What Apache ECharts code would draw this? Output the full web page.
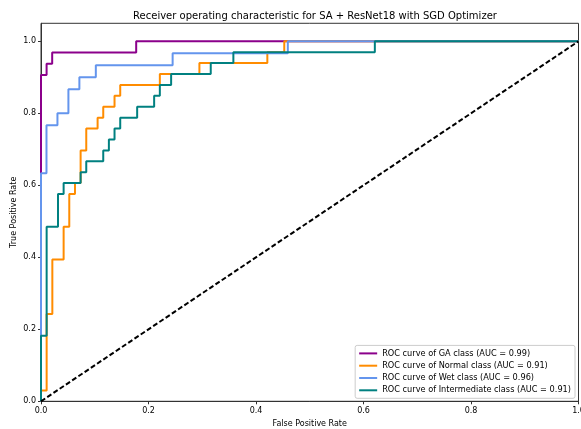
<!DOCTYPE html>
<html>
<head>
<meta charset="utf-8">
<script src="https://cdn.jsdelivr.net/npm/echarts@6/dist/echarts.min.js"></script>
<style>
  html, body { margin: 0; padding: 0; background: #fff; }
  #chart { width: 581px; height: 429px; }
</style>
</head>
<body>
<div id="chart"></div>
<script>
// ROC curves per class (false positive rate / true positive rate corner points)
const gaFpr = [0, 0, 0.0104, 0.0104, 0.0208, 0.0208, 0.1771, 0.1771, 1];
const gaTpr = [0, 0.9062, 0.9062, 0.9375, 0.9375, 0.9688, 0.9688, 1, 1];

const normalFpr = [0, 0, 0.0105, 0.0105, 0.0211, 0.0211, 0.0421, 0.0421, 0.0526, 0.0526, 0.0632, 0.0632,
  0.0737, 0.0737, 0.0842, 0.0842, 0.1053, 0.1053, 0.1158, 0.1158, 0.1368, 0.1368, 0.1474, 0.1474,
  0.2211, 0.2211, 0.2947, 0.2947, 0.4211, 0.4211, 0.4526, 0.4526, 1];
const normalTpr = [0, 0.0303, 0.0303, 0.2424, 0.2424, 0.3939, 0.3939, 0.4848, 0.4848, 0.5758, 0.5758, 0.6061,
  0.6061, 0.6970, 0.6970, 0.7576, 0.7576, 0.7879, 0.7879, 0.8182, 0.8182, 0.8485, 0.8485, 0.8788,
  0.8788, 0.9091, 0.9091, 0.9394, 0.9394, 0.9697, 0.9697, 1, 1];

const wetFpr = [0, 0, 0.0102, 0.0102, 0.0306, 0.0306, 0.0510, 0.0510, 0.0714, 0.0714, 0.1020, 0.1020,
  0.2449, 0.2449, 0.4592, 0.4592, 1];
const wetTpr = [0, 0.6333, 0.6333, 0.7667, 0.7667, 0.8, 0.8, 0.8667, 0.8667, 0.9, 0.9, 0.9333,
  0.9333, 0.9667, 0.9667, 1, 1];

const interFpr = [0, 0, 0.0105, 0.0105, 0.0316, 0.0316, 0.0421, 0.0421, 0.0737, 0.0737, 0.0842, 0.0842,
  0.1158, 0.1158, 0.1263, 0.1263, 0.1368, 0.1368, 0.1474, 0.1474, 0.1789, 0.1789, 0.2105, 0.2105,
  0.2211, 0.2211, 0.2421, 0.2421, 0.3158, 0.3158, 0.3579, 0.3579, 0.6211, 0.6211, 1];
const interTpr = [0, 0.1818, 0.1818, 0.4848, 0.4848, 0.5758, 0.5758, 0.6061, 0.6061, 0.6364, 0.6364, 0.6667,
  0.6667, 0.6970, 0.6970, 0.7273, 0.7273, 0.7576, 0.7576, 0.7879, 0.7879, 0.8182, 0.8182, 0.8485,
  0.8485, 0.8788, 0.8788, 0.9091, 0.9091, 0.9394, 0.9394, 0.9697, 0.9697, 1, 1];

const classNames = ['GA', 'Normal', 'Wet', 'Intermediate'];
const aucValues = ['0.99', '0.91', '0.96', '0.91'];
const classColors = ['#8B008B', '#FF8C00', '#6495ED', '#008080'];
const chanceX = [0, 1];
const chanceY = [0, 1];
const tickValues = [0, 0.2, 0.4, 0.6, 0.8, 1.0];

const FONT = 'DejaVu Sans';
const zip = (xs, ys) => xs.map((x, i) => [x, ys[i]]);
const curves = [[gaFpr, gaTpr], [normalFpr, normalTpr], [wetFpr, wetTpr], [interFpr, interTpr]];
const labels = classNames.map((c, i) => `ROC curve of ${c} class (AUC = ${aucValues[i]})`);

const series = curves.map(([xs, ys], i) => ({
  name: labels[i],
  type: 'line',
  data: zip(xs, ys),
  symbol: 'none',
  color: classColors[i],
  lineStyle: { width: 2, color: classColors[i] },
  z: 3 + i
}));
series.push({
  name: 'chance',
  type: 'line',
  data: zip(chanceX, chanceY),
  symbol: 'none',
  lineStyle: { width: 2, color: '#000', type: [5, 2.5] },
  z: 8
});

const axisCommon = {
  type: 'value',
  interval: 0.2,
  splitLine: { show: false },
  axisLine: { show: true, lineStyle: { color: '#333', width: 1 } },
  axisTick: { show: true, length: 3, lineStyle: { color: '#333' }, customValues: tickValues },
  axisLabel: {
    color: '#000', fontFamily: FONT, fontSize: 8,
    customValues: tickValues,
    formatter: v => v.toFixed(1)
  },
  nameLocation: 'middle',
  nameTextStyle: { color: '#000', fontFamily: FONT, fontSize: 8 }
};

const chart = echarts.init(document.getElementById('chart'), null, { renderer: 'canvas' });
chart.setOption({
  animation: false,
  backgroundColor: '#fff',
  title: {
    text: 'Receiver operating characteristic for SA + ResNet18 with SGD Optimizer',
    left: 310, top: 6, textAlign: 'center',
    textStyle: { fontFamily: FONT, fontSize: 10, fontWeight: 'normal', color: '#000' }
  },
  grid: {
    left: 41, right: 2.5, top: 23.3, bottom: 27.7,
    outerBoundsMode: 'none',
    containLabel: false,
    show: true, borderColor: '#333', borderWidth: 1, backgroundColor: 'transparent'
  },
  xAxis: Object.assign({}, axisCommon, {
    min: 0, max: 1, name: 'False Positive Rate', nameGap: 17,
    axisLabel: Object.assign({}, axisCommon.axisLabel, { margin: 6 })
  }),
  yAxis: Object.assign({}, axisCommon, {
    min: 0, max: 1.05,
    axisLabel: Object.assign({}, axisCommon.axisLabel, { margin: 5 })
  }),
  graphic: [{
    type: 'text',
    x: 14, y: 212.3,
    rotation: Math.PI / 2,
    style: {
      text: 'True Positive Rate',
      fill: '#000',
      font: `8px "${FONT}"`,
      align: 'center',
      verticalAlign: 'middle'
    }
  }],
  legend: {
    data: labels,
    orient: 'vertical',
    right: 6, bottom: 30.7,
    icon: 'rect',
    itemWidth: 18, itemHeight: 2, itemGap: 2.3,
    padding: [3, 4, 3, 4],
    backgroundColor: 'rgba(255,255,255,0.8)',
    borderColor: '#ccc', borderWidth: 1, borderRadius: 2,
    textStyle: { fontFamily: FONT, fontSize: 8.2, color: '#000', lineHeight: 10 }
  },
  series: series
});
</script>
</body>
</html>
